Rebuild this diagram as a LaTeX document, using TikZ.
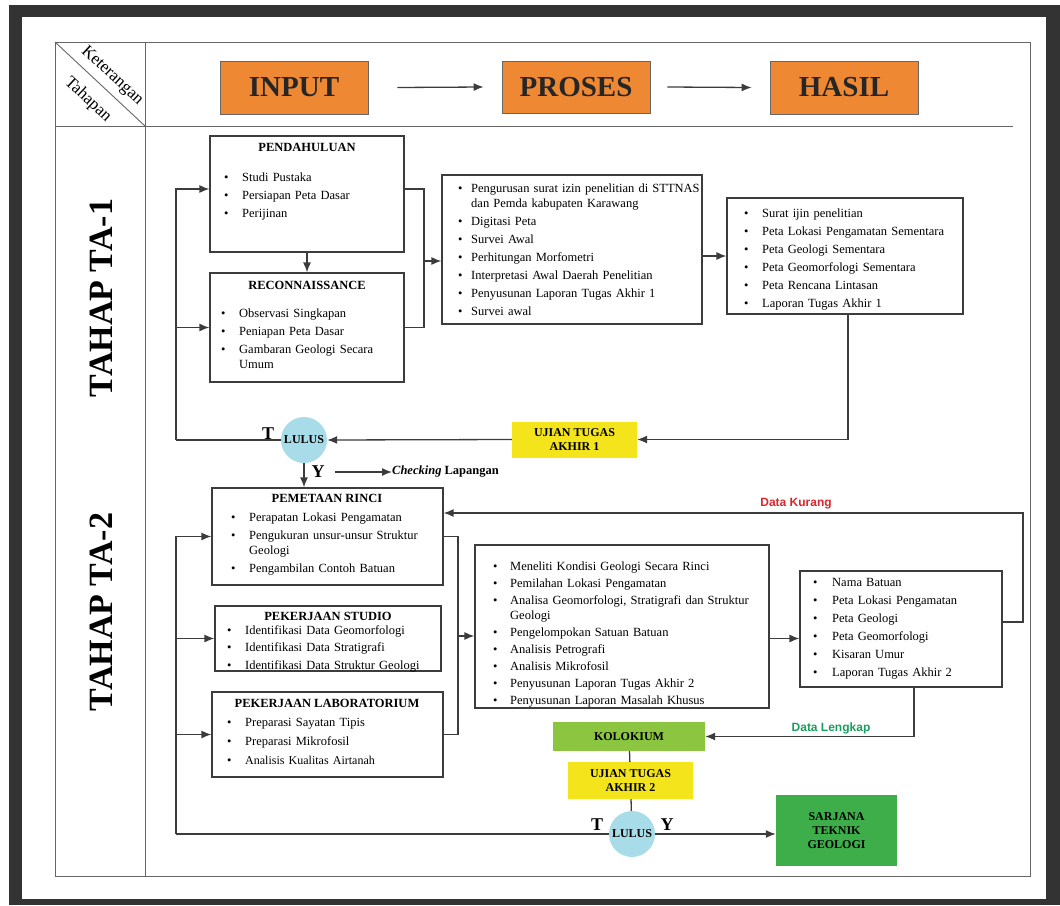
\documentclass[tikz,border=0pt]{standalone}
\usepackage{fontspec}
\setmainfont{Liberation Serif}
\newfontfamily\arialfont{Liberation Sans}
\usepackage{enumitem}
\usetikzlibrary{arrows.meta}
\newlist{pts}{itemize}{1}
\setlist[pts]{label=\textbullet,leftmargin=18pt,labelwidth=18pt,labelsep=0pt,align=left,nosep,itemsep=3pt}
\definecolor{frameDark}{HTML}{333333}
\definecolor{hdrOrange}{HTML}{EE8833}
\definecolor{ujiYellow}{HTML}{F4E41C}
\definecolor{lulusBlue}{HTML}{A8DCE9}
\definecolor{koloGreen}{HTML}{8CC540}
\definecolor{sarjGreen}{HTML}{3DAE4A}
\definecolor{kurangRed}{HTML}{D8272D}
\definecolor{lengkapGreen}{HTML}{1A9E5F}
\definecolor{lineGray}{HTML}{3C3C3C}
\tikzset{
  box/.style={draw=lineGray,line width=1.2pt,inner sep=0pt},
  hdr/.style={draw=black!60,line width=0.8pt,fill=hdrOrange,inner sep=0pt,font=\fontsize{29}{29}\selectfont\bfseries,text=black!85},
  ttl/.style={font=\fontsize{12.5}{15}\selectfont\bfseries,inner sep=0pt},
  lst/.style={anchor=north west,inner sep=0pt,text width=#1,align=left,font=\fontsize{12.5}{15}\selectfont},
  uji/.style={fill=ujiYellow,inner sep=0pt,align=center,font=\fontsize{12}{14}\selectfont\bfseries},
  lulus/.style={circle,fill=lulusBlue,minimum size=46pt,inner sep=0pt,font=\fontsize{12}{14}\selectfont\bfseries},
  tk/.style={font=\fontsize{18}{18}\selectfont\bfseries,inner sep=0pt},
  arr/.style={draw=lineGray,line width=1.3pt,-{Latex[length=10pt,width=8pt]}},
  ln/.style={draw=lineGray,line width=1.3pt},
  tbl/.style={draw=black!60,line width=0.9pt},
  tahap/.style={rotate=90,font=\fontsize{34}{34}\selectfont\bfseries,inner sep=0pt}
}
\begin{document}
\begin{tikzpicture}[x=1pt,y=-1pt]
\useasboundingbox (0,0) rectangle (1060,905);
\fill[white] (0,0) rectangle (1060,905);
\fill[frameDark] (9,5) rectangle (1060,905);
\fill[white] (22,17) rectangle (1046,899);

\draw[tbl] (55,42) rectangle (1030,876);
\draw[tbl] (145,42) -- (145,876);
\draw[tbl] (55,126) -- (1013,126);
\draw[tbl] (55,42) -- (145,126);
\node[rotate=-43,font=\fontsize{17}{17}\selectfont] (ket) at (112,76) {Keterangan};
\node[rotate=-43,font=\fontsize{17}{17}\selectfont] (thp) at (88,100) {Tahapan};
\node[tahap] (ta1) at (101,298) {TAHAP TA-1};
\node[tahap] (ta2) at (101,612) {TAHAP TA-2};

\node[hdr,minimum width=148pt,minimum height=53pt] (input) at (294,87.5) {INPUT};
\node[hdr,minimum width=148pt,minimum height=52pt] (proses) at (576,87) {PROSES};
\node[hdr,minimum width=148pt,minimum height=53pt] (hasil) at (844,87.5) {HASIL};
\draw[arr] ([xshift=29pt]input.east) -- ([xshift=-18pt]proses.west);
\draw[arr] ([xshift=17pt]proses.east) -- ([xshift=-18pt]hasil.west);

\node[box,minimum width=194pt,minimum height=116pt] (pend) at (307,194) {};
\node[ttl] (pendT) at (307,147) {PENDAHULUAN};
\node[lst=175pt] (pendL) at (224,166) {\begin{pts}\item Studi Pustaka \item Persiapan Peta Dasar \item Perijinan\end{pts}};
\node[box,minimum width=194pt,minimum height=109pt] (recon) at (307,327.5) {};
\node[ttl] (reconT) at (307,285) {RECONNAISSANCE};
\node[lst=180pt] (reconL) at (221,302) {\begin{pts}\item Observasi Singkapan \item Peniapan Peta Dasar \item Gambaran Geologi Secara\newline Umum\end{pts}};
\node[box,minimum width=260pt,minimum height=149pt] (prosesA) at (572,249.5) {};
\node[lst=245pt] (prosesAL) at (458,177) {\begin{pts}[leftmargin=13pt,labelwidth=13pt]
\item Pengurusan surat izin penelitian di STTNAS\newline dan Pemda kabupaten Karawang
\item Digitasi Peta \item Survei Awal \item Perhitungan Morfometri
\item Interpretasi Awal Daerah Penelitian \item Penyusunan Laporan Tugas Akhir 1 \item Survei awal\end{pts}};
\node[box,minimum width=236pt,minimum height=116pt] (hasilA) at (845,256) {};
\node[lst=215pt] (hasilAL) at (744,202) {\begin{pts}\item Surat ijin penelitian \item Peta Lokasi Pengamatan Sementara
\item Peta Geologi Sementara \item Peta Geomorfologi Sementara \item Peta Rencana Lintasan \item Laporan Tugas Akhir 1\end{pts}};
\node[uji,minimum width=125pt,minimum height=36pt] (ujianA) at (574.5,439.5) {UJIAN TUGAS\\AKHIR 1};
\node[lulus] (lulusA) at (304,440) {LULUS};
\node[tk] (tA) at (268,434) {T};
\node[tk] (yA) at (318,472) {Y};
\node[anchor=west,inner sep=0pt,font=\fontsize{12.5}{15}\selectfont\bfseries] (check) at (392,472) {\textit{Checking} Lapangan};

\coordinate (brA) at (424,261);
\draw[ln] ([yshift=5pt]pend.east) -| (brA) |- (recon.east);
\draw[arr] (brA) -- (brA -| prosesA.west);
\draw[arr] (pend) -- (recon);
\draw[arr] (prosesA.east |- hasilA.west) -- (hasilA.west);
\draw[arr] ([xshift=3pt]hasilA.south) |- (ujianA.east);
\draw[arr] (ujianA.west) -- (lulusA.east);
\coordinate (loopA) at (176,440);
\draw[ln] (lulusA.west) -- (loopA);
\draw[arr] (loopA) |- ([yshift=5pt]pend.west);
\draw[arr] (loopA |- recon.west) -- (recon.west);

\node[box,minimum width=231pt,minimum height=97pt] (pemetaan) at (327.5,536.5) {};
\node[ttl] (pemetaanT) at (327,498) {PEMETAAN RINCI};
\node[lst=205pt] (pemetaanL) at (231,506) {\begin{pts}\item Perapatan Lokasi Pengamatan
\item Pengukuran unsur-unsur Struktur\newline Geologi \item Pengambilan Contoh Batuan\end{pts}};
\node[box,minimum width=226pt,minimum height=65pt] (studio) at (328,638.5) {};
\node[ttl] (studioT) at (328,616) {PEKERJAAN STUDIO};
\node[lst=212pt] (studioL) at (227,619) {\begin{pts}[itemsep=2.5pt]\item Identifikasi Data Geomorfologi
\item Identifikasi Data Stratigrafi \item Identifikasi Data Struktur Geologi\end{pts}};
\node[box,minimum width=231pt,minimum height=85pt] (lab) at (327.5,734.5) {};
\node[ttl] (labT) at (327,703) {PEKERJAAN LABORATORIUM};
\node[lst=212pt] (labL) at (227,711) {\begin{pts}[itemsep=4pt]\item Preparasi Sayatan Tipis
\item Preparasi Mikrofosil \item {\fontsize{12}{15}\selectfont Analisis Kualitas Airtanah}\end{pts}};
\node[box,minimum width=294pt,minimum height=163pt] (prosesB) at (622,626.5) {};
\node[lst=272pt] (prosesBL) at (493,555) {\begin{pts}[leftmargin=17pt,labelwidth=17pt,itemsep=2pt]
\item Meneliti Kondisi Geologi Secara Rinci \item Pemilahan Lokasi Pengamatan
\item Analisa Geomorfologi, Stratigrafi dan Struktur\newline Geologi
\item Pengelompokan Satuan Batuan \item Analisis Petrografi \item Analisis Mikrofosil
\item Penyusunan Laporan Tugas Akhir 2 \item Penyusunan Laporan Masalah Khusus\end{pts}};
\node[box,minimum width=202pt,minimum height=116pt] (hasilB) at (901,629) {};
\node[lst=185pt] (hasilBL) at (813,571) {\begin{pts}[leftmargin=19pt,labelwidth=19pt]
\item Nama Batuan \item Peta Lokasi Pengamatan \item Peta Geologi
\item Peta Geomorfologi \item Kisaran Umur \item Laporan Tugas Akhir 2\end{pts}};
\node[uji,fill=koloGreen,minimum width=152pt,minimum height=29pt] (kolokium) at (629,736.5) {KOLOKIUM};
\node[uji,minimum width=125pt,minimum height=37pt] (ujianB) at (630.5,780.5) {UJIAN TUGAS\\AKHIR 2};
\node[lulus] (lulusB) at (632,834) {LULUS};
\node[uji,fill=sarjGreen,minimum width=121pt,minimum height=71pt] (sarjana) at (836.5,830.5) {SARJANA\\TEKNIK\\GEOLOGI};
\node[tk] (tB) at (597,825) {T};
\node[tk] (yB) at (667,825) {Y};
\node[font=\arialfont\fontsize{12}{14}\selectfont\bfseries,text=kurangRed,inner sep=0pt] (kurangT) at (796,504) {Data Kurang};
\node[font=\arialfont\fontsize{12}{14}\selectfont\bfseries,text=lengkapGreen,inner sep=0pt] (lengkapT) at (831,728) {Data Lengkap};

\draw[arr] (lulusA.south) -- (lulusA.south |- pemetaan.north);
\draw[arr] ([xshift=10pt]yA.east) -- (check.west);
\coordinate (brB) at (458,636);
\draw[ln] (pemetaan.east) -| (brB) |- (lab.east);
\draw[arr] (brB) -- (brB -| prosesB.west);
\draw[arr] ([yshift=-12pt]prosesB.east) -- ([yshift=-12pt]prosesB.east -| hasilB.west);
\coordinate (kurang) at (1023,513);
\draw[arr] ([yshift=7pt]hasilB.east) -| (kurang) -- (kurang -| pemetaan.east);
\coordinate (lengkap) at (914,736.5);
\draw[arr] (lengkap |- hasilB.south) -- (lengkap) -- (kolokium.east);
\draw[ln] (kolokium) -- (ujianB);
\draw[ln] (ujianB) -- (lulusB);
\draw[arr] (lulusB.east) -- (lulusB.east -| sarjana.west);
\coordinate (loopB) at (176,834);
\draw[ln] (lulusB.west) -- (loopB);
\draw[arr] (loopB) |- (pemetaan.west);
\draw[arr] (loopB |- studio.west) -- (studio.west);
\draw[arr] (loopB |- lab.west) -- (lab.west);
\end{tikzpicture}
\end{document}
